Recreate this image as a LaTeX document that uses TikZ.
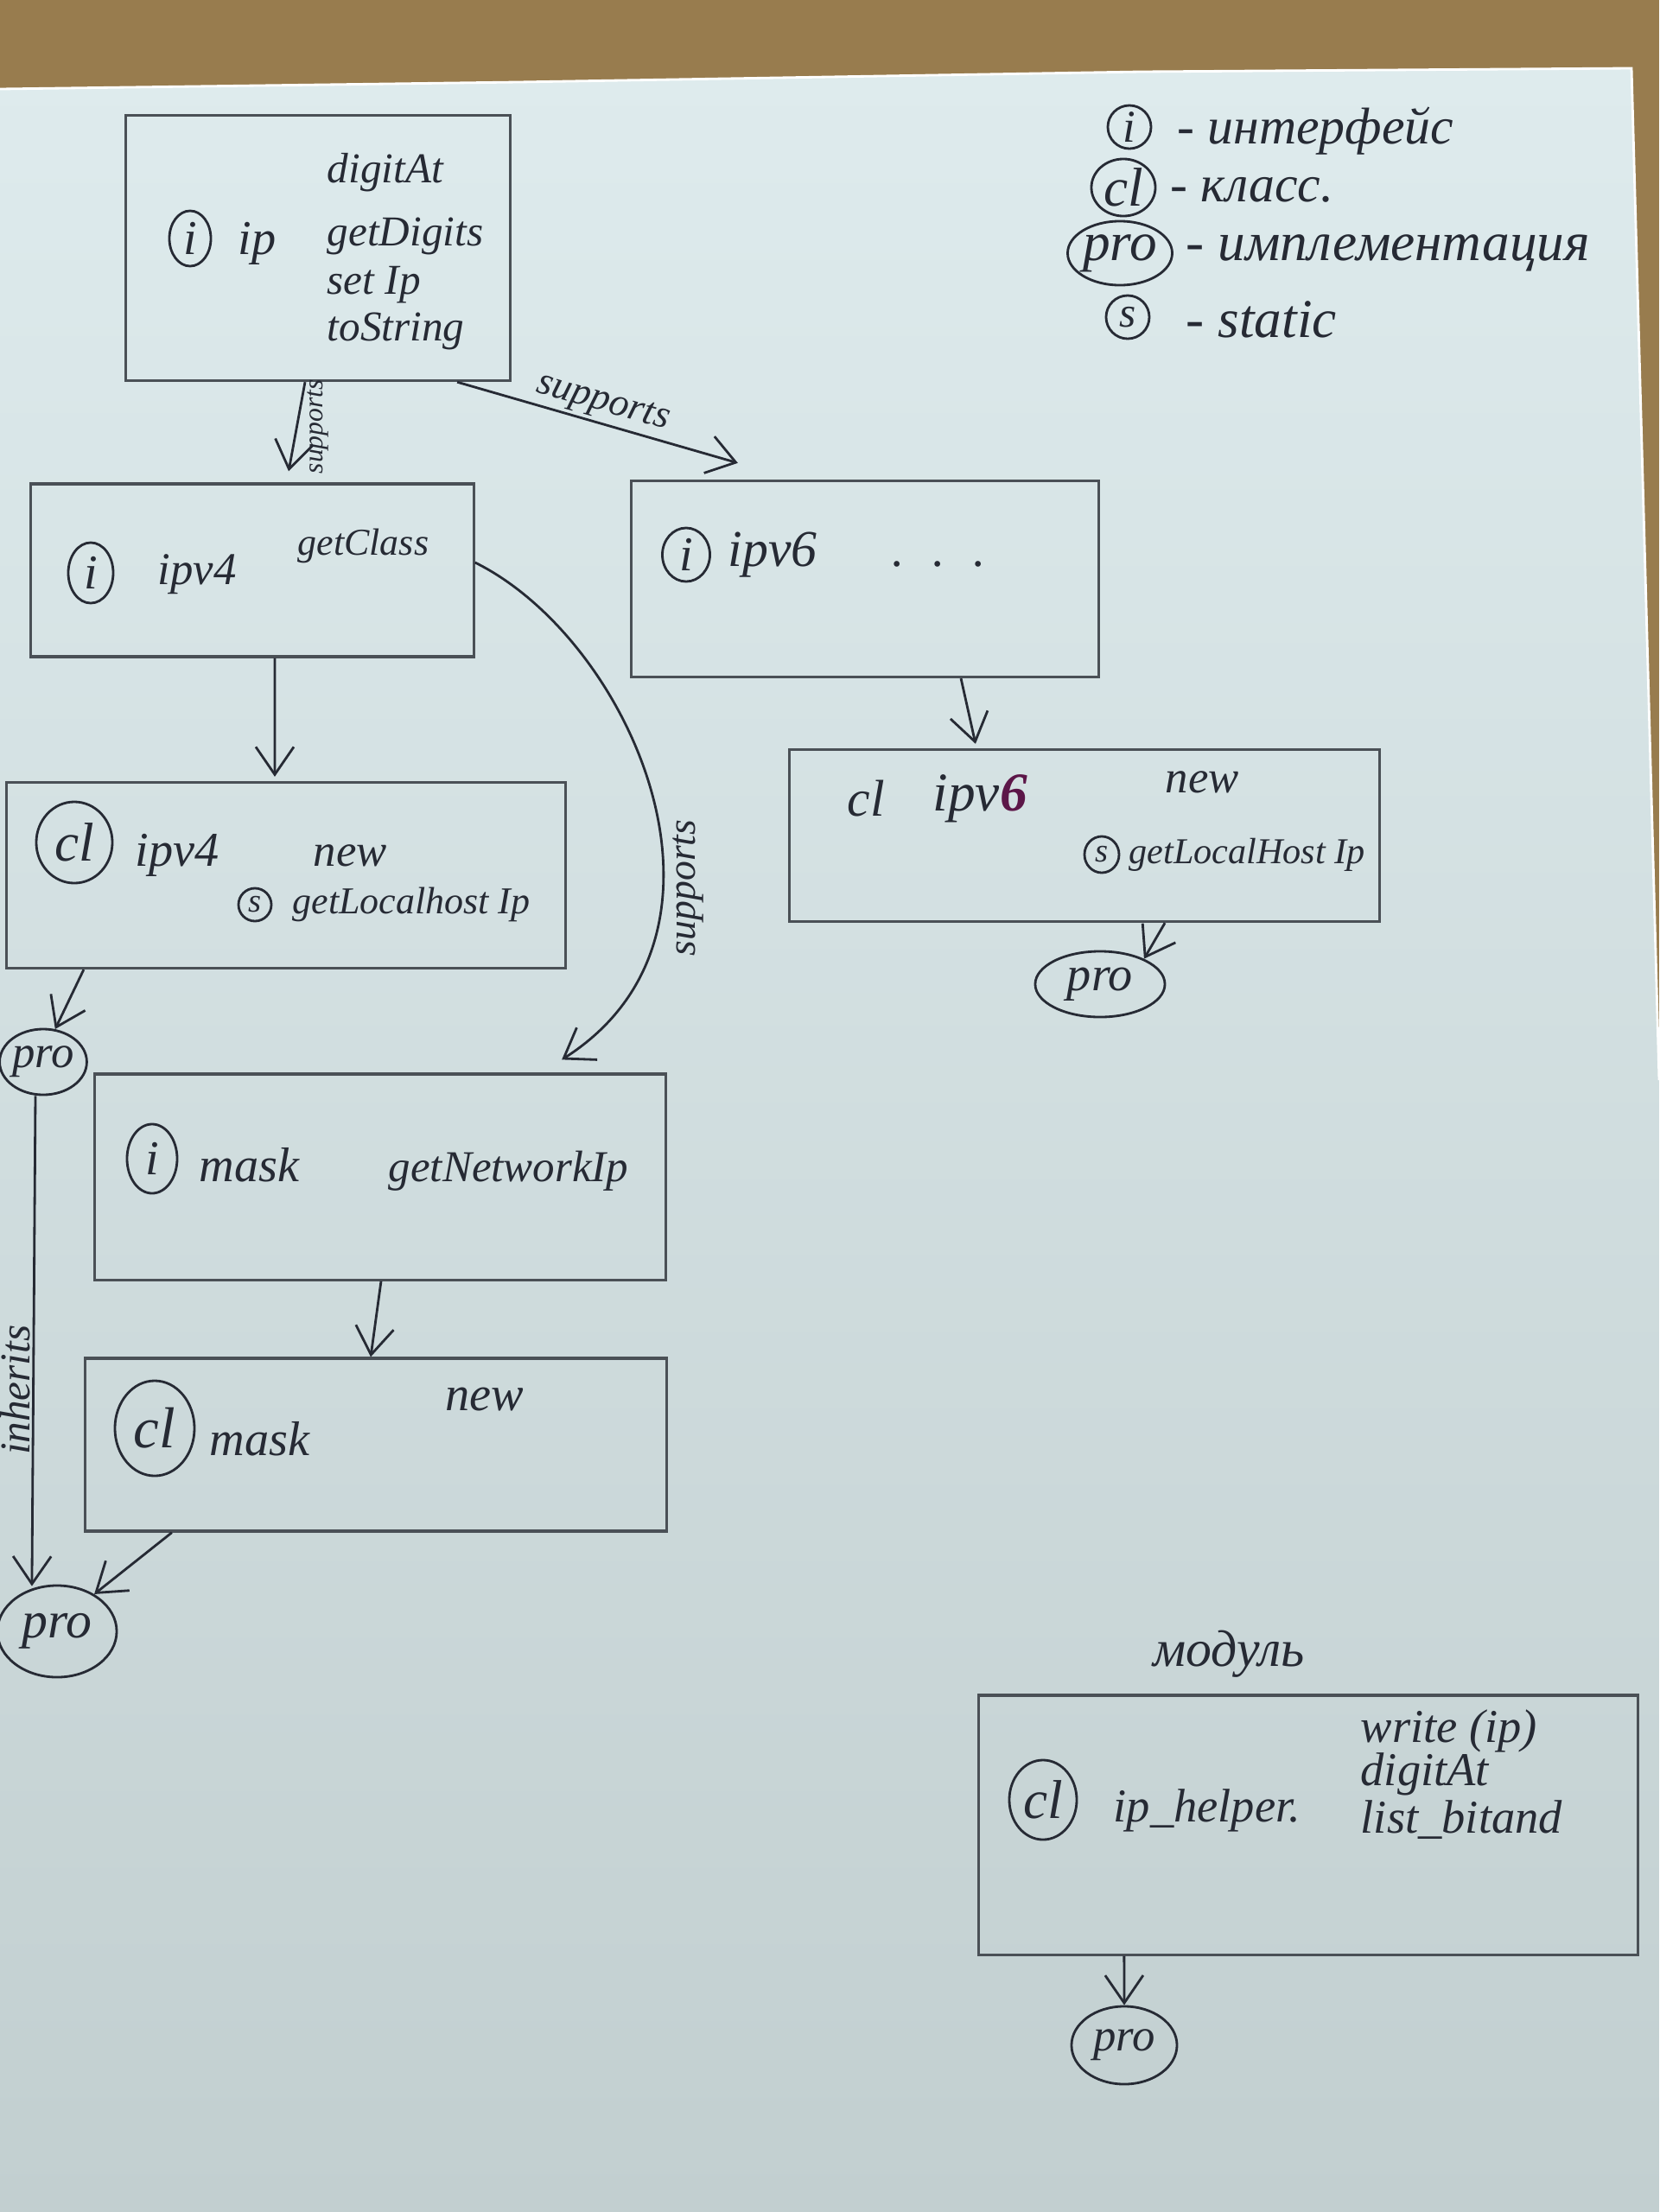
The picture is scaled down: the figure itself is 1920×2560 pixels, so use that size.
\documentclass[tikz,border=0pt]{standalone}
\usepackage{fontspec}
\setmainfont{Liberation Serif}
\usetikzlibrary{arrows.meta,shapes.geometric}

\definecolor{inkc}{RGB}{38,42,52}
\definecolor{pencil}{RGB}{74,80,86}
\definecolor{papertop}{RGB}{222,235,237}
\definecolor{paperbot}{RGB}{194,207,208}
\definecolor{wood}{RGB}{152,124,78}
\definecolor{violetink}{RGB}{92,22,72}

% handwritten-like text at a given size
\newcommand\hsz[1]{\fontsize{#1}{#1}\selectfont\itshape}

\begin{document}
\begin{tikzpicture}[x=0.01cm,y=-0.01cm,
  box/.style={draw=pencil, line width=0.9pt, rectangle, inner sep=0pt},
  badge/.style={draw=inkc, line width=0.8pt, ellipse, inner sep=0pt, text=inkc},
  lbl/.style={text=inkc, anchor=west, inner sep=0pt},
  conn/.style={draw=inkc, line width=0.8pt, -{Straight Barb[length=3.2mm,width=4.4mm]}},
]
\useasboundingbox (0,0) rectangle (1920,2560);

% table and sheet of paper
\fill[wood] (0,0) rectangle (1920,2560);
\shade[top color=papertop, bottom color=paperbot]
  (0,103) -- (600,95) -- (1320,83) -- (1888,79) -- (1920,1250) -- (1920,2560) -- (0,2560) -- cycle;
\draw[white, line width=0.8pt] (0,103) -- (600,95) -- (1320,83) -- (1888,79) -- (1920,1250);

% ---------- legend ----------
\node[badge, minimum width=0.5cm, minimum height=0.5cm] (lgi) at (1307,147) {\hsz{15}i};
\node[lbl] (lgit) at (1362,152) {\hsz{17}- интерфейс};
\node[badge, minimum width=0.74cm, minimum height=0.66cm] (lgcl) at (1300,217) {\hsz{18}cl};
\node[lbl] (lgclt) at (1354,220) {\hsz{17}- класс.};
\node[badge, minimum width=1.16cm, minimum height=0.74cm] (lgpro) at (1296,293) {\hsz{18}pro};
\node[lbl] (lgprot) at (1372,293) {\hsz{18}- имплементация};
\node[badge, minimum width=0.5cm, minimum height=0.5cm] (lgs) at (1305,367) {\hsz{14}s};
\node[lbl] (lgst) at (1372,370) {\hsz{18}- static};

% ---------- interface ip ----------
\node[box, minimum width=4.45cm, minimum height=3.07cm] (ip) at (368,287) {};
\node[badge, minimum width=0.48cm, minimum height=0.64cm] (ipb) at (220,276) {\hsz{16}i};
\node[lbl] (ipn) at (275,282) {\hsz{16}ip};
\node[lbl] (ipm1) at (378,200) {\hsz{14}digitAt};
\node[lbl] (ipm2) at (378,273) {\hsz{14}getDigits};
\node[lbl] (ipm3) at (378,330) {\hsz{14}set Ip};
\node[lbl] (ipm4) at (378,383) {\hsz{14}toString};

% ---------- interface ipv4 ----------
\node[box, minimum width=5.12cm, minimum height=2.0cm] (ipv4i) at (292,660) {};
\node[badge, minimum width=0.52cm, minimum height=0.7cm] (ipv4ib) at (105,663) {\hsz{16}i};
\node[lbl] (ipv4in) at (182,665) {\hsz{15}ipv4};
\node[lbl] (ipv4im) at (344,632) {\hsz{12.5}getClass};

% ---------- interface ipv6 ----------
\node[box, minimum width=5.41cm, minimum height=2.27cm] (ipv6i) at (1001,670) {};
\node[badge, minimum width=0.55cm, minimum height=0.62cm] (ipv6ib) at (794,642) {\hsz{16}i};
\node[lbl] (ipv6in) at (842,642) {\hsz{17}ipv6};
\node[lbl] (ipv6im) at (1032,653) {\hsz{16}. \ . \ .};

% ---------- class ipv4 ----------
\node[box, minimum width=6.46cm, minimum height=2.15cm] (ipv4c) at (331,1013) {};
\node[badge, minimum width=0.88cm, minimum height=0.94cm] (ipv4cb) at (86,975) {\hsz{18}cl};
\node[lbl] (ipv4cn) at (156,990) {\hsz{16}ipv4};
\node[lbl] (ipv4cnew) at (362,990) {\hsz{15}new};
\node[badge, minimum width=0.38cm, minimum height=0.38cm] (ipv4cs) at (295,1047) {\hsz{11}s};
\node[lbl] (ipv4cm) at (338,1047) {\hsz{12.5}getLocalhost Ip};

% ---------- class ipv6 ----------
\node[box, minimum width=6.82cm, minimum height=1.99cm] (ipv6c) at (1255,967) {};
\node[lbl] (ipv6ccl) at (980,924) {\hsz{17}cl};
\node[lbl] (ipv6cn) at (1079,924) {\hsz{18}ipv{\color{violetink}\bfseries 6}};
\node[lbl] (ipv6cnew) at (1348,905) {\hsz{15}new};
\node[badge, minimum width=0.4cm, minimum height=0.42cm] (ipv6cs) at (1275,989) {\hsz{11}s};
\node[lbl] (ipv6cm) at (1306,989) {\hsz{12}getLocalHost Ip};

% ---------- interface mask ----------
\node[box, minimum width=6.6cm, minimum height=2.38cm] (maski) at (440,1362) {};
\node[badge, minimum width=0.58cm, minimum height=0.8cm] (maskib) at (176,1341) {\hsz{16}i};
\node[lbl] (maskin) at (230,1348) {\hsz{16}mask};
\node[lbl] (maskim) at (449,1355) {\hsz{14.5}getNetworkIp};

% ---------- class mask ----------
\node[box, minimum width=6.72cm, minimum height=2.0cm] (maskc) at (435,1672) {};
\node[badge, minimum width=0.92cm, minimum height=1.1cm] (maskcb) at (179,1653) {\hsz{19}cl};
\node[lbl] (maskcn) at (242,1665) {\hsz{16}mask};
\node[lbl] (maskcnew) at (515,1619) {\hsz{16}new};

% ---------- module ip_helper ----------
\node[lbl] (modlbl) at (1334,1914) {\hsz{17}модуль};
\node[box, minimum width=7.63cm, minimum height=3.0cm] (helper) at (1514,2112) {};
\node[badge, minimum width=0.78cm, minimum height=0.92cm] (helperb) at (1207,2083) {\hsz{18}cl};
\node[lbl] (helpern) at (1288,2095) {\hsz{15.5}ip\_helper.};
\node[lbl] (helperm1) at (1574,2003) {\hsz{15.5}write (ip)};
\node[lbl] (helperm2) at (1574,2053) {\hsz{15.5}digitAt};
\node[lbl] (helperm3) at (1574,2106) {\hsz{15.5}list\_bitand};

% ---------- implementations ----------
\node[badge, minimum width=1.0cm, minimum height=0.76cm] (pro1) at (50,1229) {\hsz{15}pro};
\node[badge, minimum width=1.38cm, minimum height=1.06cm] (pro2) at (66,1888) {\hsz{17}pro};
\node[badge, minimum width=1.5cm, minimum height=0.76cm] (pro3) at (1273,1139) {\hsz{16}pro};
\node[badge, minimum width=1.22cm, minimum height=0.9cm] (pro4) at (1301,2367) {\hsz{15}pro};

% ---------- connectors ----------
\draw[conn] ([xshift=-0.15cm]ip.south) -- ([xshift=0.42cm,yshift=0.13cm]ipv4i.north)
  node[pos=0.5, anchor=north, rotate=90, inner sep=3pt, text=inkc] (sup1) {\hsz{9}supports};
\draw[conn] ([xshift=1.61cm]ip.south) -- ([xshift=-1.47cm,yshift=0.19cm]ipv6i.north)
  node[pos=0.5, sloped, above, inner sep=1pt, text=inkc] (sup2) {\hsz{13}supports};
\draw[conn] ([yshift=0.09cm]ipv4i.east) .. controls (730,740) and (880,1080) .. ([xshift=2.1cm,yshift=0.15cm]maski.north)
  node[pos=0.66, anchor=north, rotate=90, inner sep=3pt, text=inkc] (sup3) {\hsz{13}supports};
\draw[conn] ([xshift=0.26cm]ipv4i.south) -- ([xshift=-0.13cm,yshift=0.05cm]ipv4c.north);
\draw[conn] ([xshift=1.11cm]ipv6i.south) -- ([xshift=-1.26cm,yshift=0.05cm]ipv6c.north);
\draw[conn] ([xshift=0.01cm]maski.south) -- ([xshift=-0.06cm]maskc.north);
\draw[conn] ([xshift=-2.34cm]ipv4c.south) -- (pro1.70);
\draw[conn] ([xshift=-0.09cm]pro1.south) -- ([xshift=-0.1cm]pro2.110)
  node[pos=0.6, anchor=south, rotate=90, inner sep=0.5pt, text=inkc] (inh) {\hsz{14}inherits};
\draw[conn] ([xshift=-2.36cm]maskc.south) -- (pro2.45);
\draw[conn] ([xshift=0.93cm]ipv6c.south) -- (pro3.30);
\draw[conn] ([xshift=-2.13cm]helper.south) -- (pro4.north);
\end{tikzpicture}
\end{document}
